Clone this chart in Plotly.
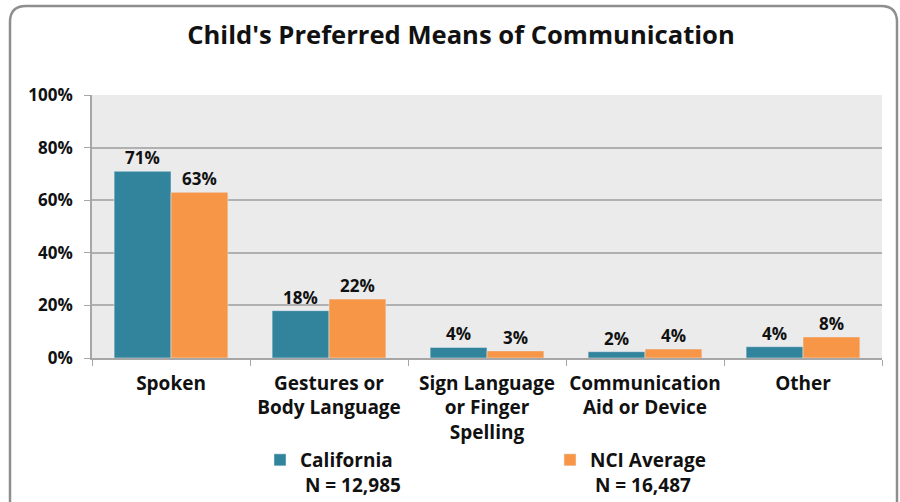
import plotly.graph_objects as go

categories = ["Spoken", "Gestures or<br>Body Language", "Sign Language<br>or Finger<br>Spelling",
              "Communication<br>Aid or Device", "Other"]
california = [0.71, 0.18, 0.04, 0.024, 0.043]
california_labels = ["71%", "18%", "4%", "2%", "4%"]
nci = [0.63, 0.224, 0.027, 0.034, 0.08]
nci_labels = ["63%", "22%", "3%", "4%", "8%"]
y_ticks = [0, 0.2, 0.4, 0.6, 0.8, 1.0]
y_tick_labels = ["0%", "20%", "40%", "60%", "80%", "100%"]

W, H = 900, 502
L, R, T, B = 92, 882, 95, 358
FONT = "Open Sans"
TXT = "#111111"
BARGAP = 0.28

def px_x(px):
    return (px - L) / (R - L)

def px_y(py):
    return (B - py) / (B - T)

fig = go.Figure()
fig.add_trace(go.Bar(
    x=categories, y=california, name="<b>California</b><br><b>\u00a0N = 12,985</b>",
    marker=dict(color="#31849B"),
))
fig.add_trace(go.Bar(
    x=categories, y=nci, name="<b>NCI Average</b><br><b>\u00a0N = 16,487</b>",
    marker=dict(color="#F79646"),
))

# value labels above bars
cat_px = (R - L) / len(categories)
half_bar = cat_px * (1 - BARGAP) / 4
annotations = []
for labels, vals, sign in [(california_labels, california, -1), (nci_labels, nci, 1)]:
    for c, v, t in zip(categories, vals, labels):
        annotations.append(dict(x=c, y=v, xref="x", yref="y", text=f"<b>{t}</b>",
                                showarrow=False, xanchor="center", yanchor="bottom",
                                xshift=sign * half_bar, yshift=0,
                                font=dict(family=FONT, size=17, color=TXT)))

# rounded border (partly running off the right and bottom edges)
x0, x1 = px_x(10), px_x(897)
y0, y1 = px_y(6), px_y(520)
rx = 16 / (R - L)
ry = 16 / (B - T)
path = (f"M {x0},{y1} L {x0},{y0 - ry} Q {x0},{y0} {x0 + rx},{y0} "
        f"L {x1 - rx},{y0} Q {x1},{y0} {x1},{y0 - ry} L {x1},{y1}")
shapes = [dict(type="path", xref="paper", yref="paper", path=path,
               line=dict(color="#8E8E8E", width=2.5), layer="below")]

fig.update_layout(
    width=W, height=H,
    margin=dict(l=L, r=W - R, t=T, b=H - B, autoexpand=False),
    paper_bgcolor="white", plot_bgcolor="#EBEBEB",
    barmode="group", bargap=BARGAP, bargroupgap=0,
    font=dict(family=FONT, size=17, color=TXT),
    title=dict(text="<b>Child's Preferred Means of Communication</b>",
               x=461 / W, xref="container", xanchor="center",
               y=1 - 35 / H, yref="container", yanchor="middle",
               font=dict(family=FONT, size=25.6, color=TXT)),
    showlegend=True,
    legend=dict(orientation="h", x=px_x(260), xanchor="left",
                y=px_y(441), yanchor="top",
                entrywidth=245, entrywidthmode="pixels", valign="top",
                font=dict(family=FONT, size=19, color=TXT),
                bgcolor="rgba(0,0,0,0)", itemwidth=30, tracegroupgap=0),
    xaxis=dict(showline=True, linecolor="#A6A6A6", linewidth=1.5,
               ticks="outside", tickson="boundaries", ticklen=6, tickcolor="#A6A6A6",
               tickvals=categories, ticktext=[f"<b>{c}</b>" for c in categories],
               tickfont=dict(family=FONT, size=19, color=TXT), tickangle=0,
               showgrid=False, ticklabelstandoff=7, automargin=False),
    yaxis=dict(range=[0, 1.0], tickvals=y_ticks, ticktext=[f"<b>{t}</b>" for t in y_tick_labels],
               showline=True, linecolor="#A6A6A6", linewidth=1.5,
               ticks="outside", ticklen=6, tickcolor="#A6A6A6",
               showgrid=True, gridcolor="#B0B0B0", gridwidth=1.5,
               tickfont=dict(family=FONT, size=17, color=TXT),
               ticklabelstandoff=8, zeroline=False, automargin=False),
    shapes=shapes,
    annotations=annotations,
)

# remove the default 8px page margin so the figure sits at the window's top-left corner
fig.write_html("out.html", config={"displayModeBar": False},
               post_script="document.body.style.margin='0';")
